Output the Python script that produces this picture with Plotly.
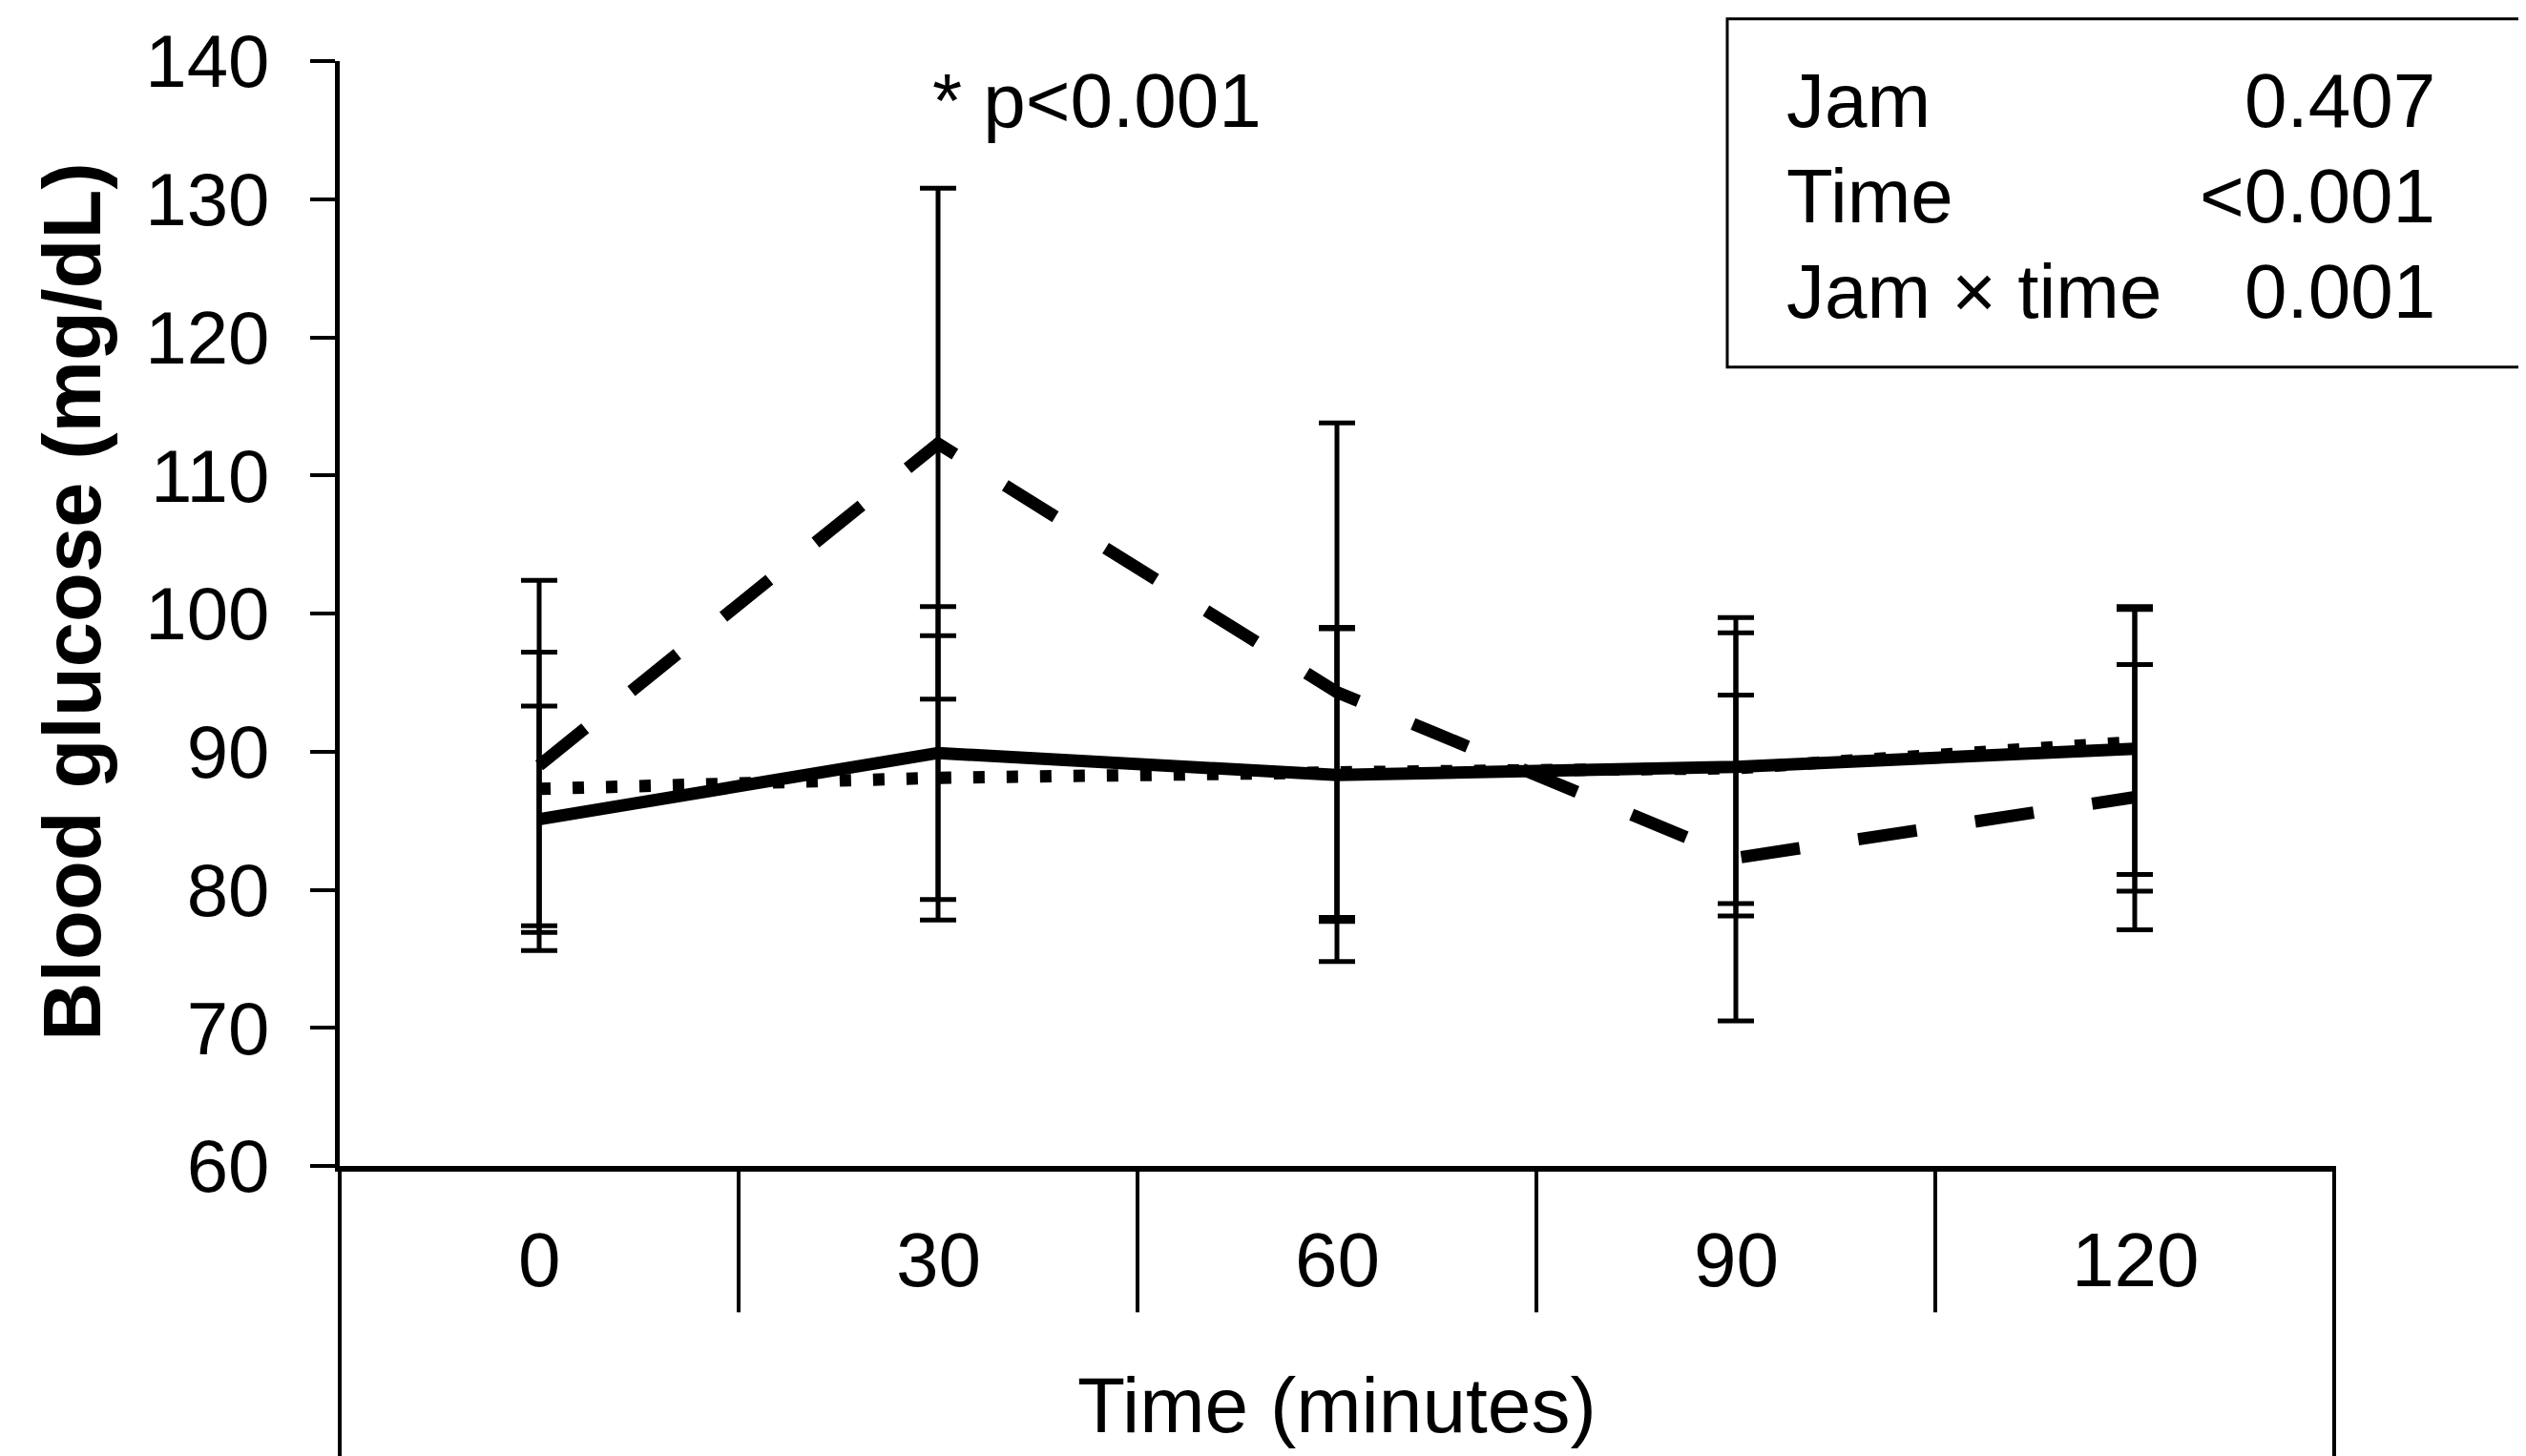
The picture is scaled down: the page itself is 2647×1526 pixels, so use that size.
import plotly.graph_objects as go

# ---- data ----
time_labels = ["0", "30", "60", "90", "120"]

solid_mean = [85.1, 89.9, 88.3, 88.9, 90.2]
solid_sd = [8.2, 10.6, 10.6, 10.8, 10.3]

dotted_mean = [87.3, 88.1, 88.5, 88.8, 90.7]
dotted_sd = [9.9, 10.3, 10.5, 9.8, 9.6]

dashed_mean = [89.0, 112.3, 94.3, 82.3, 86.7]
dashed_sd = [13.4, 18.5, 19.5, 11.8, 9.6]

y_ticks = [60, 70, 80, 90, 100, 110, 120, 130, 140]

stats_names = ["Jam", "Time", "Jam \u00d7 time"]
stats_p = ["0.407", "<0.001", "0.001"]

sig_text = "* p<0.001"

# ---- figure geometry (page offset of 8px from the default body margin) ----
OFF = 8
W, H = 2647 - OFF, 1526 - OFF
PL, PR, PT, PB = 356, 2446, 64.3, 1221.7  # plot area in page pixels
ML, MR, MT, MB = PL - OFF, W - (PR - OFF), PT - OFF, H - (PB - OFF)
PW, PH = W - ML - MR, H - MT - MB

FONT = "Arial, Liberation Sans, sans-serif"


def py_(py):
    """page pixel y -> paper y"""
    return (H - MB - (py - OFF)) / PH


def px_(px):
    """page pixel x -> paper x"""
    return ((px - OFF) - ML) / PW


fig = go.Figure()

series = [
    ("Dashed group", dashed_mean, dashed_sd, "62px,62px"),
    ("Dotted group", dotted_mean, dotted_sd, "12px,23px"),
    ("Solid group", solid_mean, solid_sd, "solid"),
]
for name, m, sd, dash in series:
    fig.add_trace(go.Scatter(
        x=time_labels, y=m, name=name, mode="lines",
        line=dict(color="black", width=13, dash=dash),
        error_y=dict(type="data", array=sd, visible=True, color="black",
                     thickness=5, width=19),
        showlegend=False,
    ))

shapes = []
# y-axis line extension below the plot
shapes.append(dict(type="line", xref="paper", yref="paper", x0=0, x1=0,
                   y0=0, y1=py_(1530), line=dict(color="black", width=4)))
# right outer line
shapes.append(dict(type="line", xref="paper", yref="paper", x0=1, x1=1,
                   y0=0, y1=py_(1530), line=dict(color="black", width=4)))
# dividers between categories
for i in range(len(time_labels) - 1):
    shapes.append(dict(type="line", xref="x", yref="paper", x0=i + 0.5, x1=i + 0.5,
                       y0=0, y1=py_(1375), line=dict(color="black", width=4)))
# stats box
shapes.append(dict(type="rect", xref="paper", yref="paper",
                   x0=px_(1810), x1=px_(2643),
                   y0=py_(385), y1=py_(20),
                   line=dict(color="black", width=3), fillcolor="white", layer="above"))

annotations = []
# x tick labels
for i, t in enumerate(time_labels):
    annotations.append(dict(x=i, y=py_(1320), xref="x", yref="paper",
                            text=t, showarrow=False, xanchor="center", yanchor="middle",
                            font=dict(family=FONT, size=80, color="black")))
# x title
annotations.append(dict(x=2, y=py_(1472), xref="x", yref="paper",
                        text="Time (minutes)", showarrow=False, xanchor="center", yanchor="middle",
                        font=dict(family=FONT, size=82, color="black")))
# y title
annotations.append(dict(x=px_(76), y=py_(631), xref="paper", yref="paper",
                        text="<b>Blood glucose (mg/dL)</b>", textangle=-90, showarrow=False,
                        xanchor="center", yanchor="middle",
                        font=dict(family=FONT, size=85, color="black")))
# significance text
annotations.append(dict(x=px_(1149.5), y=py_(106), xref="paper", yref="paper",
                        text=sig_text, showarrow=False, xanchor="center", yanchor="middle",
                        font=dict(family=FONT, size=80, color="black")))
# stats box text
row_y = [106, 206, 306]
for nm, p, ry in zip(stats_names, stats_p, row_y):
    annotations.append(dict(x=px_(1870), y=py_(ry), xref="paper", yref="paper",
                            text=nm, showarrow=False, xanchor="left", yanchor="middle",
                            font=dict(family=FONT, size=80, color="black")))
    annotations.append(dict(x=px_(2554), y=py_(ry), xref="paper", yref="paper",
                            text=p, showarrow=False, xanchor="right", yanchor="middle",
                            font=dict(family=FONT, size=80, color="black")))

fig.update_layout(
    width=W, height=H,
    margin=dict(l=ML, r=MR, t=MT, b=MB, pad=0),
    paper_bgcolor="white", plot_bgcolor="white",
    shapes=shapes, annotations=annotations,
    showlegend=False,
)
fig.update_xaxes(
    type="category", categoryorder="array", categoryarray=time_labels,
    range=[-0.5, len(time_labels) - 0.5],
    showline=True, linecolor="black", linewidth=6,
    showgrid=False, zeroline=False, ticks="", showticklabels=False,
)
fig.update_yaxes(
    range=[60, 140], tickvals=y_ticks, ticktext=[str(v) for v in y_ticks],
    showline=True, linecolor="black", linewidth=5,
    ticks="outside", ticklen=26, tickwidth=4, tickcolor="black",
    tickfont=dict(family=FONT, size=78, color="black"),
    ticklabelstandoff=27,
    showgrid=False, zeroline=False,
)

fig.write_html("out.html")
